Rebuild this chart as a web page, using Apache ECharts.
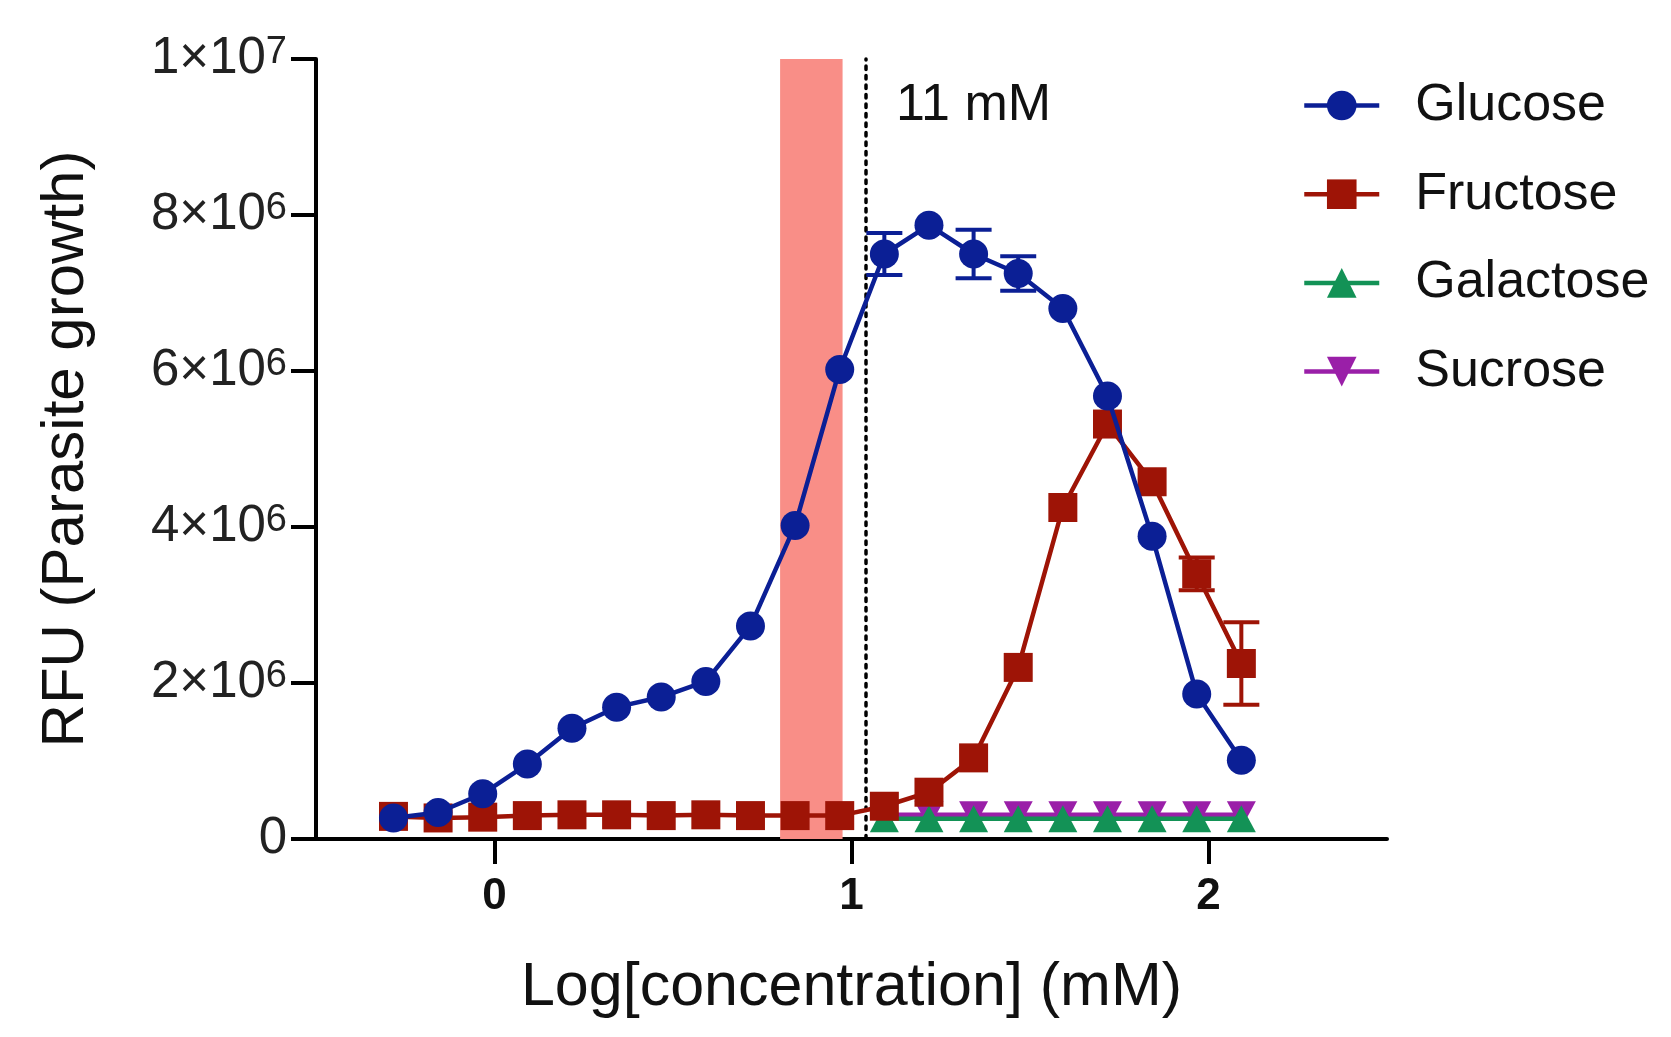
<!DOCTYPE html>
<html><head><meta charset="utf-8">
<script src="https://cdn.jsdelivr.net/npm/echarts@6/dist/echarts.min.js"></script>
<style>html,body{margin:0;padding:0;background:#fff}#c{width:1671px;height:1037px}</style>
</head><body><div id="c"></div>
<script>
// x: Log[concentration] (mM)
const logConc = [-0.283, -0.158, -0.033, 0.092, 0.217, 0.342, 0.467, 0.592, 0.717, 0.842,
                 0.967, 1.092, 1.217, 1.342, 1.467, 1.592, 1.717, 1.842, 1.967, 2.092];
// RFU in units of 10^6
const glucose    = [0.27, 0.34, 0.58, 0.96, 1.42, 1.69, 1.82, 2.02, 2.73, 4.02,
                    6.02, 7.50, 7.87, 7.50, 7.25, 6.80, 5.68, 3.88, 1.86, 1.01];
const glucoseSem = [0, 0, 0, 0, 0, 0, 0, 0, 0, 0,
                    0, 0.27, 0, 0.31, 0.22, 0, 0, 0, 0, 0];
const fructose    = [0.29, 0.27, 0.28, 0.30, 0.31, 0.31, 0.30, 0.31, 0.30, 0.30,
                     0.30, 0.42, 0.60, 1.04, 2.20, 4.25, 5.32, 4.58, 3.40, 2.25];
const fructoseSem = [0, 0, 0, 0, 0, 0, 0, 0, 0, 0,
                     0, 0, 0, 0, 0, 0, 0, 0, 0.21, 0.53];
const galactose = [null, null, null, null, null, null, null, null, null, null,
                   null, 0.26, 0.26, 0.26, 0.26, 0.26, 0.26, 0.26, 0.26, 0.26];
const sucrose   = [null, null, null, null, null, null, null, null, null, null,
                   null, 0.31, 0.31, 0.31, 0.31, 0.31, 0.31, 0.31, 0.31, 0.31];
const seriesNames = ['Glucose', 'Fructose', 'Galactose', 'Sucrose'];
const xTicks = [0, 1, 2];
const xTickLabels = ['0', '1', '2'];
const yTicks = [0, 2e6, 4e6, 6e6, 8e6, 1e7];
const yTickLabels = ['0', '2×10{sup|6}', '4×10{sup|6}', '6×10{sup|6}', '8×10{sup|6}', '1×10{sup|7}'];
const band = [0.80, 0.975];       // shaded range (log mM)
const markerLine = 1.041;         // log10(11 mM)

const FONT = '"Liberation Sans", Arial, Helvetica, sans-serif';
const C = {Glucose:'#0B1F95', Fructose:'#9E1406', Galactose:'#139256', Sucrose:'#9A1FA8'};

function pairs(vals){ const out=[]; vals.forEach((v,i)=>{ if(v!==null) out.push([logConc[i], v*1e6]); }); return out; }
function errData(vals, sems){ const out=[]; vals.forEach((v,i)=>{ if(sems[i]) out.push([logConc[i], (v-sems[i])*1e6, (v+sems[i])*1e6]); }); return out; }
function errSeries(name, vals, sems, color, z){
  return {
    type:'custom', name: name, z: z, silent: true,
    data: errData(vals, sems),
    encode: {x: 0, y: [1, 2]},
    renderItem: function(params, api){
      const x = api.value(0);
      const lo = api.coord([x, api.value(1)]);
      const hi = api.coord([x, api.value(2)]);
      const hw = 18;
      const st = {stroke: color, lineWidth: 4};
      return {type:'group', children:[
        {type:'line', shape:{x1:lo[0], y1:lo[1], x2:hi[0], y2:hi[1]}, style:st},
        {type:'line', shape:{x1:lo[0]-hw, y1:lo[1], x2:lo[0]+hw, y2:lo[1]}, style:st},
        {type:'line', shape:{x1:hi[0]-hw, y1:hi[1], x2:hi[0]+hw, y2:hi[1]}, style:st}
      ]};
    }
  };
}
function lineSeries(name, vals, symbol, size, z, extra){
  return Object.assign({
    type:'line', name: name, data: pairs(vals), z: z,
    symbol: symbol, symbolSize: size, showSymbol: true,
    lineStyle: {color: C[name], width: 4.5},
    itemStyle: {color: C[name], borderWidth: 0},
    emphasis: {disabled: true}, animation: false
  }, extra || {});
}

const chart = echarts.init(document.getElementById('c'), null, {renderer:'canvas'});
chart.setOption({
  animation: false,
  backgroundColor: '#fff',
  grid: {left: 316, right: 284, top: 59, bottom: 198, containLabel: false},
  xAxis: {
    type: 'value', min: -0.5, max: 2.5,
    name: 'Log[concentration] (mM)', nameLocation: 'middle', nameGap: 119,
    nameTextStyle: {fontFamily: FONT, fontSize: 61, color: '#111'},
    axisLine: {onZero: false, lineStyle: {color: '#000', width: 4}},
    axisTick: {show: true, length: 25, lineStyle: {color: '#000', width: 4}, customValues: xTicks},
    axisLabel: {customValues: xTicks, margin: 36, fontFamily: FONT, fontSize: 44, fontWeight: 'bold', color: '#111',
                formatter: v => xTickLabels[xTicks.indexOf(v)]},
    splitLine: {show: false}
  },
  yAxis: {
    type: 'value', min: 0, max: 1e7, interval: 2e6,
    name: 'RFU (Parasite growth)', nameLocation: 'middle', nameGap: 220, nameRotate: 90,
    nameTextStyle: {fontFamily: FONT, fontSize: 60, color: '#111'},
    axisLine: {show: true, onZero: false, lineStyle: {color: '#000', width: 4}},
    axisTick: {show: true, length: 25, lineStyle: {color: '#000', width: 4}},
    axisLabel: {margin: 29, color: '#222', fontFamily: FONT, fontSize: 51,
      formatter: v => yTickLabels[yTicks.indexOf(v)],
      rich: {sup: {fontFamily: FONT, fontSize: 38, lineHeight: 38, verticalAlign: 'top', color: '#222'}}},
    splitLine: {show: false}
  },
  legend: {
    orient: 'vertical', left: 1297, top: 74,
    data: seriesNames,
    itemWidth: 75, itemHeight: 37, itemGap: 35.7,
    lineStyle: {width: 4.5},
    textStyle: {fontFamily: FONT, fontSize: 52, lineHeight: 53, color: '#111', padding: [0, 0, 0, 31]},
    selectedMode: false
  },
  graphic: [{
    type: 'text', left: 896, top: 80,
    style: {text: '11 mM', font: '52px ' + FONT, fill: '#111'}
  }],
  series: [
    lineSeries('Sucrose', sucrose, 'path://M0,0 L10,0 L5,9 Z', [29, 27], 10, {
      markArea: {silent: true, itemStyle: {color: '#F98E87', opacity: 1},
        data: [[{coord: [band[0], 0]}, {coord: [band[1], 1e7]}]]},
      markLine: {silent: true, symbol: ['none', 'none'], label: {show: false},
        lineStyle: {color: '#000', width: 3.5, type: [3.5, 6], cap: 'round'},
        data: [[{coord: [markerLine, 0]}, {coord: [markerLine, 1e7]}]]}
    }),
    lineSeries('Galactose', galactose, 'triangle', [29, 27], 11),
    errSeries('Fructose SEM', fructose, fructoseSem, C.Fructose, 12),
    lineSeries('Fructose', fructose, 'rect', 29, 13),
    errSeries('Glucose SEM', glucose, glucoseSem, C.Glucose, 14),
    lineSeries('Glucose', glucose, 'circle', 29, 15)
  ]
});
</script>
</body></html>
